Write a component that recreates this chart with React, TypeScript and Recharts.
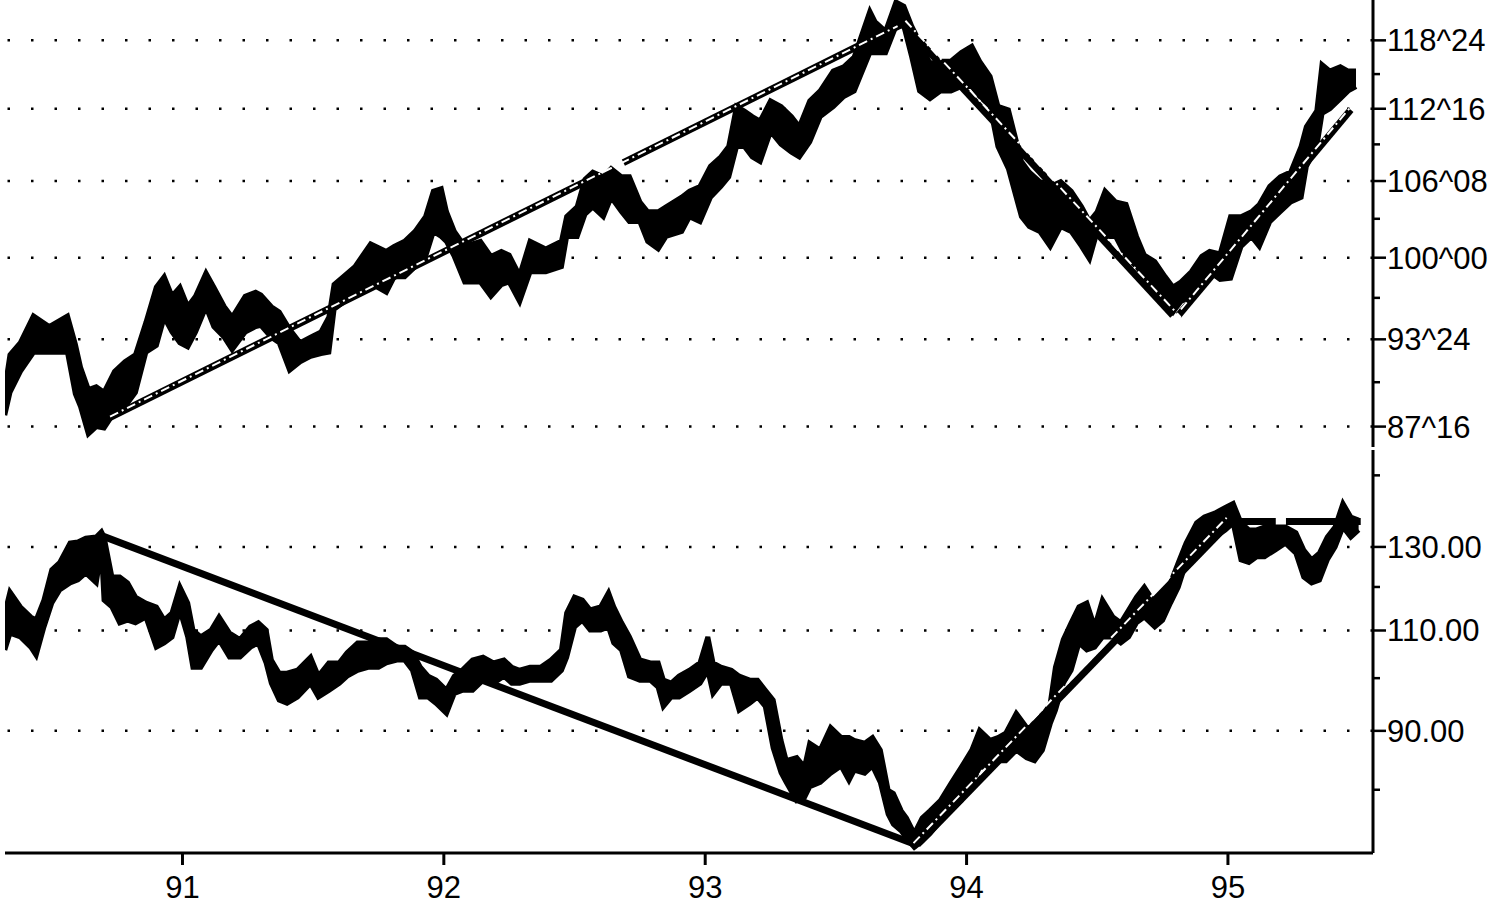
import React from 'react';
import { ComposedChart, Area, XAxis, YAxis, ReferenceLine } from 'recharts';

// T-bond futures (upper panel): decimal year, high, low
const bondYears = [
  90.32, 90.34, 90.38, 90.43, 90.49, 90.56, 90.59, 90.61, 90.64, 90.67, 90.7, 90.74, 90.78, 90.82, 90.86, 90.9,
  90.93, 90.96, 90.99, 91.02, 91.05, 91.09, 91.12, 91.16, 91.19, 91.24, 91.28, 91.3, 91.34, 91.37, 91.41, 91.45,
  91.49, 91.53, 91.56, 91.58, 91.62, 91.66, 91.72, 91.78, 91.81, 91.85, 91.89, 91.93, 91.96, 91.99, 92.01, 92.04,
  92.08, 92.14, 92.18, 92.22, 92.25, 92.29, 92.33, 92.39, 92.45, 92.47, 92.51, 92.54, 92.57, 92.61, 92.64, 92.68,
  92.71, 92.75, 92.78, 92.82, 92.85, 92.91, 92.94, 92.98, 93.02, 93.06, 93.09, 93.12, 93.15, 93.18, 93.21, 93.25,
  93.29, 93.33, 93.36, 93.4, 93.44, 93.49, 93.53, 93.57, 93.63, 93.65, 93.69, 93.73, 93.76, 93.79, 93.82, 93.86,
  93.9, 93.94, 93.98, 94.02, 94.05, 94.09, 94.12, 94.16, 94.21, 94.24, 94.28, 94.32, 94.36, 94.4, 94.44, 94.47,
  94.5, 94.53, 94.57, 94.61, 94.65, 94.68, 94.72, 94.76, 94.79, 94.82, 94.86, 94.9, 94.93, 94.97, 95.01, 95.05,
  95.09, 95.12, 95.16, 95.2, 95.24, 95.28, 95.3, 95.34, 95.36, 95.39, 95.43, 95.46, 95.49,
];
const bondHigh = [
  90.1, 92.6, 93.5, 95.5, 94.7, 95.5, 93.4, 91.7, 90.1, 90.3, 89.9, 91.4, 92.1, 92.6, 95.0, 97.7,
  98.5, 97.0, 97.7, 96.2, 97.0, 98.8, 97.7, 96.2, 95.4, 97.0, 97.3, 97.1, 96.2, 95.8, 94.5, 93.5,
  93.9, 94.3, 95.4, 97.9, 98.6, 99.3, 101.1, 100.5, 100.9, 101.3, 102.1, 103.3, 105.4, 105.6, 103.7, 102.1,
  100.9, 101.3, 100.1, 100.5, 100.2, 98.6, 101.3, 100.7, 101.3, 103.3, 104.1, 106.4, 107.0, 106.6, 107.3, 106.6,
  106.6, 104.5, 103.7, 103.7, 104.1, 104.9, 105.4, 105.8, 107.5, 108.3, 109.2, 112.7, 112.3, 111.8, 111.4, 113.2,
  112.7, 111.8, 110.9, 113.2, 114.1, 115.9, 116.3, 117.2, 121.5, 120.5, 119.6, 122.4, 122.0, 120.1, 118.6, 116.6,
  116.8, 116.8, 117.6, 118.2, 116.8, 115.4, 112.7, 112.4, 107.9, 107.0, 106.2, 105.8, 106.2, 105.4, 104.1, 102.9,
  103.7, 105.4, 104.5, 104.3, 101.7, 100.2, 99.7, 98.5, 97.7, 98.1, 98.9, 100.1, 100.5, 100.3, 103.3, 103.3,
  103.7, 104.3, 105.8, 106.6, 107.0, 109.2, 110.9, 112.3, 116.5, 115.9, 116.3, 115.9, 115.9,
];
const bondLow = [
  88.3, 89.9, 91.4, 92.8, 92.8, 92.8, 89.8, 88.9, 87.0, 87.5, 87.4, 88.5, 88.9, 89.9, 92.8, 93.3,
  95.4, 94.3, 93.5, 93.2, 94.3, 96.2, 94.7, 93.9, 93.0, 94.3, 94.7, 94.8, 93.9, 93.5, 91.5, 92.1,
  92.5, 92.7, 92.8, 96.0, 96.6, 97.0, 98.0, 97.3, 98.5, 98.5, 99.3, 100.1, 102.1, 101.7, 101.3, 100.1,
  98.1, 98.1, 97.0, 97.9, 98.1, 96.6, 98.9, 98.9, 99.3, 101.7, 101.7, 103.5, 104.1, 103.3, 104.9, 103.7,
  102.9, 102.9, 101.3, 100.7, 101.7, 102.1, 103.3, 102.9, 104.9, 105.8, 106.6, 109.2, 109.2, 108.3, 107.9, 110.5,
  109.4, 108.7, 108.3, 109.6, 111.8, 112.7, 113.6, 114.1, 117.6, 117.6, 117.6, 120.1, 120.1, 117.2, 114.1, 113.4,
  114.1, 114.1, 114.5, 114.5, 113.6, 112.7, 109.2, 107.3, 103.3, 102.5, 102.1, 100.9, 102.5, 102.1, 100.9, 99.9,
  102.1, 101.7, 101.7, 100.1, 99.3, 98.5, 97.3, 96.6, 95.8, 96.6, 97.0, 98.1, 98.9, 98.3, 98.4, 100.9,
  101.7, 100.9, 102.9, 103.7, 104.5, 104.9, 107.5, 109.2, 112.1, 112.5, 113.4, 114.1, 114.5,
];

// Yen (lower panel): decimal year, high, low
const yenYears = [
  90.32, 90.34, 90.38, 90.42, 90.44, 90.47, 90.5, 90.53, 90.57, 90.6, 90.63, 90.67, 90.69, 90.7, 90.73, 90.76,
  90.79, 90.82, 90.86, 90.9, 90.93, 90.96, 90.99, 91.02, 91.04, 91.07, 91.11, 91.14, 91.18, 91.22, 91.26, 91.29,
  91.32, 91.34, 91.37, 91.4, 91.44, 91.49, 91.52, 91.56, 91.6, 91.63, 91.67, 91.71, 91.75, 91.78, 91.82, 91.85,
  91.88, 91.91, 91.94, 91.97, 92.01, 92.04, 92.07, 92.11, 92.15, 92.19, 92.23, 92.26, 92.29, 92.33, 92.37, 92.41,
  92.45, 92.47, 92.5, 92.53, 92.56, 92.6, 92.63, 92.65, 92.68, 92.71, 92.75, 92.79, 92.82, 92.84, 92.87, 92.9,
  92.94, 92.98, 93.01, 93.03, 93.06, 93.1, 93.13, 93.17, 93.2, 93.23, 93.26, 93.29, 93.31, 93.35, 93.38, 93.4,
  93.44, 93.48, 93.52, 93.55, 93.57, 93.61, 93.64, 93.67, 93.7, 93.72, 93.75, 93.77, 93.8, 93.83, 93.86, 93.9,
  93.94, 93.98, 94.02, 94.05, 94.09, 94.12, 94.15, 94.19, 94.23, 94.26, 94.29, 94.32, 94.34, 94.37, 94.4, 94.43,
  94.46, 94.49, 94.52, 94.56, 94.59, 94.62, 94.65, 94.68, 94.72, 94.75, 94.78, 94.81, 94.84, 94.88, 94.91, 94.95,
  94.99, 95.02, 95.05, 95.08, 95.11, 95.14, 95.18, 95.22, 95.26, 95.29, 95.32, 95.35, 95.38, 95.41, 95.44, 95.47,
  95.5,
];
const yenHigh = [
  113.9, 118.8, 115.3, 113.0, 112.3, 116.9, 124.2, 126.0, 131.0, 131.3, 132.3, 132.6, 134.0, 132.6, 122.4, 122.4,
  121.0, 117.6, 116.2, 115.3, 112.3, 113.9, 120.0, 116.2, 110.1, 108.6, 110.1, 113.0, 109.4, 108.0, 110.8, 111.7,
  110.1, 103.7, 101.0, 101.0, 101.6, 104.3, 100.4, 103.1, 103.1, 105.2, 107.3, 107.3, 108.0, 108.0, 106.4, 106.4,
  105.2, 102.2, 100.4, 99.6, 97.6, 100.4, 101.6, 103.7, 104.3, 103.1, 103.7, 102.2, 101.6, 102.2, 102.2, 103.7,
  105.8, 113.9, 117.6, 116.9, 114.6, 115.3, 118.6, 115.3, 111.7, 108.6, 103.7, 103.1, 103.1, 99.6, 99.0, 100.4,
  101.6, 103.1, 108.6, 103.1, 102.2, 101.6, 100.4, 99.6, 99.6, 97.6, 95.7, 88.3, 84.8, 85.3, 83.7, 87.8,
  86.6, 90.6, 88.8, 88.8, 88.3, 87.8, 88.8, 86.6, 79.9, 79.4, 76.7, 75.6, 73.3, 75.6, 76.7, 78.3,
  81.0, 83.7, 86.6, 90.1, 88.3, 88.8, 89.6, 93.2, 90.6, 90.6, 92.5, 95.1, 102.2, 108.0, 111.7, 115.3,
  116.2, 110.8, 116.9, 113.0, 111.7, 114.6, 117.6, 120.0, 116.2, 118.6, 121.0, 126.0, 131.0, 136.4, 138.0, 139.1,
  140.7, 141.8, 136.4, 134.5, 134.5, 135.3, 135.3, 135.3, 133.7, 129.2, 126.7, 128.4, 132.6, 135.3, 141.8, 138.0,
  137.2,
];
const yenLow = [
  105.8, 109.4, 108.6, 106.4, 104.7, 110.8, 116.2, 119.3, 121.0, 121.7, 123.4, 121.0, 129.2, 116.9, 115.3, 111.7,
  112.3, 111.7, 113.0, 106.4, 107.3, 108.6, 114.6, 108.6, 102.2, 102.2, 105.8, 108.0, 104.3, 104.3, 106.4, 107.3,
  103.1, 99.0, 95.7, 95.1, 96.3, 99.0, 96.3, 97.6, 99.0, 100.4, 101.6, 102.2, 102.2, 103.1, 103.7, 103.7,
  101.6, 96.3, 96.3, 95.1, 93.2, 97.0, 97.6, 97.6, 99.6, 99.0, 100.4, 99.0, 99.0, 99.6, 99.6, 99.6,
  101.6, 104.3, 110.8, 112.3, 110.1, 110.1, 110.8, 107.3, 105.8, 100.4, 99.6, 99.6, 98.2, 94.5, 96.3, 96.3,
  97.6, 99.0, 101.6, 97.0, 99.0, 99.0, 93.8, 95.1, 96.3, 94.5, 87.0, 82.8, 81.2, 78.3, 78.8, 80.5,
  81.2, 82.7, 83.9, 81.5, 83.2, 82.7, 83.9, 81.2, 76.2, 74.7, 73.7, 72.6, 71.3, 72.2, 73.3, 75.2,
  76.7, 78.3, 81.0, 83.7, 83.7, 84.8, 84.8, 86.6, 85.3, 84.8, 86.6, 91.3, 93.8, 99.0, 101.6, 107.3,
  105.8, 106.4, 108.6, 108.6, 107.3, 108.6, 111.7, 113.0, 110.8, 112.3, 116.2, 120.0, 126.0, 129.2, 131.0, 132.6,
  134.5, 136.4, 126.7, 126.0, 127.5, 127.5, 129.2, 131.0, 128.4, 122.4, 121.0, 121.7, 126.7, 130.0, 135.3, 132.6,
  134.5,
];

const yearTicks = [91, 92, 93, 94, 95];
const bondTicks = [87.5, 90.625, 93.75, 96.875, 100, 103.125, 106.25, 109.375, 112.5, 115.625, 118.75];
const bondTickLabels = ['87^16', '', '93^24', '', '100^00', '', '106^08', '', '112^16', '', '118^24'];
const yenTicks = [80, 90, 100, 110, 120, 130, 150];
const yenTickLabels = ['', '90.00', '', '110.00', '', '130.00', ''];

// trend lines as [fromYear, fromValue, toYear, toValue]
const bondTrendSolid = [
  [90.685, 87.8, 92.56, 106.4],
  [92.687, 107.8, 93.747, 120.2],
  [93.747, 120.6, 94.789, 95.55],
  [94.811, 95.55, 95.47, 112.4],
];
const bondTrendDashed = [
  [90.723, 88.2, 93.736, 120.1],
  [93.766, 120.6, 94.819, 95.4],
  [94.82, 96.0, 95.478, 112.9],
];
const yenTrendSolid = [
  [90.685, 133.1, 93.812, 71.6],
  [93.812, 71.7, 95.01, 136.7],
  [95.022, 136.8, 95.183, 136.8],
  [95.222, 136.8, 95.508, 136.8],
];
const yenTrendDashed = [[93.797, 71.9, 94.995, 137.8]];

const bondRows = bondYears.map((year, i) => ({ year, range: [bondLow[i], bondHigh[i]] }));
const yenRows = yenYears.map((year, i) => ({ year, range: [yenLow[i], yenHigh[i]] }));

const X_DOMAIN = [90.321, 95.555];
const FONT = "'Liberation Sans', Arial, sans-serif";

const makeValueTick = (ticks: number[], labels: string[]) => (props: any) => {
  const { x, y, payload } = props;
  const label = labels[ticks.indexOf(payload.value)] || '';
  const major = label !== '';
  return (
    <g>
      <line x1={x} x2={x + (major ? 13 : 7)} y1={y} y2={y} stroke="#000" strokeWidth={2.5} />
      {major && (
        <text x={x + 14} y={y + 11} fontSize={31} fontFamily={FONT} fill="#000">
          {label}
        </text>
      )}
    </g>
  );
};

const YearTick = (props: any) => {
  const { x, y, payload } = props;
  return (
    <g>
      <line x1={x} x2={x} y1={y} y2={y + 12} stroke="#000" strokeWidth={3} />
      <text x={x} y={y + 45} textAnchor="middle" fontSize={31} fontFamily={FONT} fill="#000">
        {payload.value}
      </text>
    </g>
  );
};

const trendLines = (lines: number[][], dashed: boolean, key: string) =>
  lines.map(([x1, y1, x2, y2], i) => (
    <ReferenceLine
      key={`${key}-${i}`}
      segment={[{ x: x1, y: y1 }, { x: x2, y: y2 }]}
      stroke={dashed ? '#fff' : '#000'}
      strokeWidth={dashed ? 2 : 7}
      strokeDasharray={dashed ? '9 4 2 4' : undefined}
      ifOverflow="visible"
    />
  ));

const gridLines = (values: number[], key: string) =>
  values.map((v) => (
    <ReferenceLine key={`${key}-${v}`} y={v} stroke="#000" strokeWidth={2.5} strokeDasharray="2.5 21" />
  ));

export default function App() {
  const bondMajor = bondTicks.filter((_, i) => bondTickLabels[i] !== '');
  const yenMajor = yenTicks.filter((_, i) => yenTickLabels[i] !== '');
  return (
    <div style={{ position: 'absolute', left: 0, top: 0, width: 1490, height: 904, background: '#fff' }}>
      <ComposedChart width={1490} height={450} data={bondRows} margin={{ top: 0, right: 0, left: 5, bottom: 3 }}>
        <XAxis dataKey="year" type="number" domain={X_DOMAIN} allowDataOverflow hide />
        <YAxis
          orientation="right"
          scale="log"
          domain={[86.1, 122.6]}
          allowDataOverflow
          ticks={bondTicks}
          interval={0}
          width={117}
          tickSize={0}
          tickMargin={0}
          tickLine={false}
          axisLine={{ stroke: '#000', strokeWidth: 3 }}
          tick={makeValueTick(bondTicks, bondTickLabels)}
        />
        {gridLines(bondMajor, 'bg')}
        <Area
          dataKey="range"
          type="linear"
          stroke="#000"
          strokeWidth={5}
          fill="#000"
          fillOpacity={1}
          dot={false}
          activeDot={false}
          isAnimationActive={false}
        />
        {trendLines(bondTrendSolid, false, 'bs')}
        {trendLines(bondTrendDashed, true, 'bd')}
      </ComposedChart>
      <ComposedChart width={1490} height={454} data={yenRows} margin={{ top: 0, right: 0, left: 5, bottom: 0 }}>
        <XAxis
          dataKey="year"
          type="number"
          domain={X_DOMAIN}
          allowDataOverflow
          ticks={yearTicks}
          interval={0}
          height={51}
          tickSize={0}
          tickMargin={0}
          tickLine={false}
          axisLine={{ stroke: '#000', strokeWidth: 3 }}
          tick={<YearTick />}
        />
        <YAxis
          orientation="right"
          scale="log"
          domain={[70.5, 157.8]}
          allowDataOverflow
          ticks={yenTicks}
          interval={0}
          width={117}
          tickSize={0}
          tickMargin={0}
          tickLine={false}
          axisLine={{ stroke: '#000', strokeWidth: 3 }}
          tick={makeValueTick(yenTicks, yenTickLabels)}
        />
        {gridLines(yenMajor, 'yg')}
        <Area
          dataKey="range"
          type="linear"
          stroke="#000"
          strokeWidth={5}
          fill="#000"
          fillOpacity={1}
          dot={false}
          activeDot={false}
          isAnimationActive={false}
        />
        {trendLines(yenTrendSolid, false, 'ys')}
        {trendLines(yenTrendDashed, true, 'yd')}
      </ComposedChart>
    </div>
  );
}
